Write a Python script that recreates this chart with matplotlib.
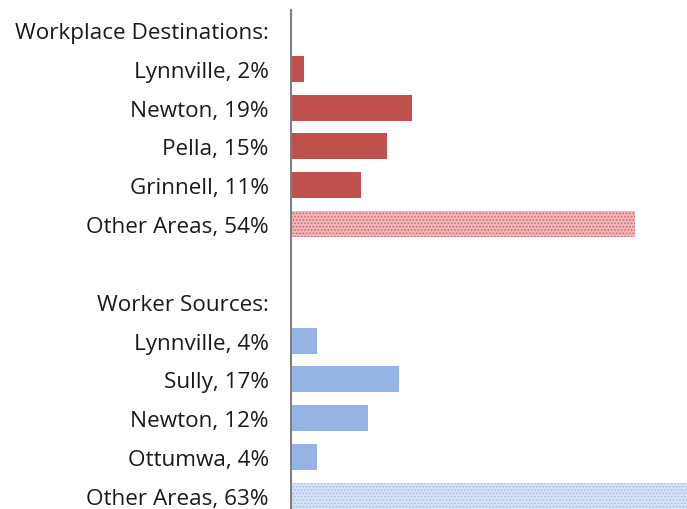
import numpy as np
import matplotlib.pyplot as plt

plt.rcParams['font.family'] = ['Open Sans', 'DejaVu Sans']
plt.rcParams['hatch.linewidth'] = 0.8

# rows from top to bottom; "" = blank row
labels = ["Workplace Destinations:", "Lynnville, 2%", "Newton, 19%", "Pella, 15%",
          "Grinnell, 11%", "Other Areas, 54%", "",
          "Worker Sources:", "Lynnville, 4%", "Sully, 17%", "Newton, 12%",
          "Ottumwa, 4%", "Other Areas, 63%"]
dest_values = [2, 19, 15, 11]
dest_other = 54
source_values = [4, 17, 12, 4]
source_other = 63

red = '#c0504d'
blue = '#95b3e3'

fig = plt.figure(figsize=(6.87, 5.10), dpi=100)
ax = fig.add_axes([291 / 687, 0, 1 - 291 / 687, 1 - 11 / 510])

pos = np.arange(len(labels))
h = 0.67

ax.barh(pos[1:5], dest_values, height=h, color=red)
ax.barh(pos[5], dest_other, height=h, facecolor='#f0b8b8', edgecolor='#d06a6a',
        hatch='.....', linewidth=0)
ax.barh(pos[8:12], source_values, height=h, color=blue)
ax.barh(pos[12], source_other, height=h, facecolor='#d6e2f6', edgecolor='#a9c0e8',
        hatch='.....', linewidth=0)

ax.set_yticks(pos)
ax.set_yticklabels(labels, fontsize=16.2, color='#1a1a1a')
ax.tick_params(axis='y', length=0, pad=16)
ax.set_xticks([])
ax.set_xlim(0, 62.1)
ax.set_ylim(12.34, -0.515)

for s in ['top', 'right', 'bottom']:
    ax.spines[s].set_visible(False)
ax.spines['left'].set_color('#808080')
ax.spines['left'].set_linewidth(1.5)

fig.savefig('out.png', dpi=100)
